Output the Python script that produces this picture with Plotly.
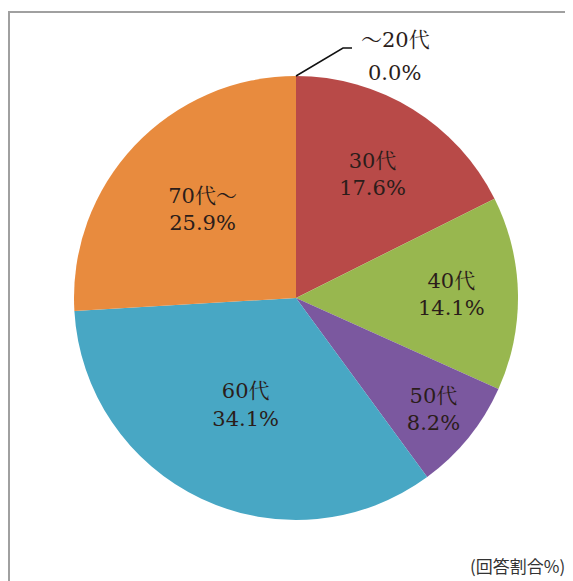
import plotly.graph_objects as go

# ---- data ----
labels = ["～20代", "30代", "40代", "50代", "60代", "70代～"]
values = [0.0, 17.6, 14.1, 8.2, 34.1, 25.9]
colors = ["#C0504D", "#B84A48", "#98B74F", "#7B589F", "#48A7C4", "#E88B3E"]
note_text = "(回答割合%)"

OFF = 8                      # page body margin
W, H = 573 - OFF, 581 - OFF
cx, cy, R = 296, 298, 222    # pie geometry in screen px

def px(x):
    return (x - OFF) / W

def py(y):
    return 1 - (y - OFF) / H

texts = [f"{l}<br>{v:.1f}%" if v > 0 else "" for l, v in zip(labels, values)]

label_font = dict(family="DejaVu Serif, Noto Serif CJK JP, Noto Sans CJK JP", size=21, color="#2b1d1a")

fig = go.Figure(go.Pie(
    labels=labels,
    values=values,
    text=texts,
    textinfo="text",
    textposition="inside",
    insidetextorientation="horizontal",
    insidetextfont=label_font,
    marker=dict(colors=colors, line=dict(width=0)),
    sort=False,
    direction="clockwise",
    rotation=0,
    showlegend=False,
    hoverinfo="label+value",
    domain=dict(x=[px(cx - R), px(cx + R)], y=[py(cy + R), py(cy - R)]),
))

# label for the zero slice with elbow leader line
fig.add_annotation(
    x=px(395), y=py(40), xref="paper", yref="paper",
    text=labels[0], showarrow=False,
    font=label_font, xanchor="center", yanchor="middle",
)
fig.add_annotation(
    x=px(394), y=py(73), xref="paper", yref="paper",
    text=f"{values[0]:.1f}%", showarrow=False,
    font=label_font, xanchor="center", yanchor="middle",
)
fig.add_shape(
    type="path", xref="paper", yref="paper",
    path=f"M {px(cx)} {py(cy - R)} L {px(343)} {py(48)} L {px(352)} {py(48)}",
    line=dict(color="#111111", width=1.5),
)

# outer frame
fig.add_shape(
    type="rect", xref="paper", yref="paper",
    x0=px(9), x1=px(569), y0=py(600), y1=py(12),
    line=dict(color="#a0a0a0", width=2), fillcolor="rgba(0,0,0,0)",
)

fig.add_annotation(
    x=px(517), y=py(565), xref="paper", yref="paper",
    text=note_text, showarrow=False, xanchor="center", yanchor="middle",
    font=dict(family="Noto Sans CJK JP", size=17, color="#333333"),
)

fig.update_layout(
    width=W, height=H,
    margin=dict(l=0, r=0, t=0, b=0),
    paper_bgcolor="white", plot_bgcolor="white",
)

fig.write_html("out.html")
